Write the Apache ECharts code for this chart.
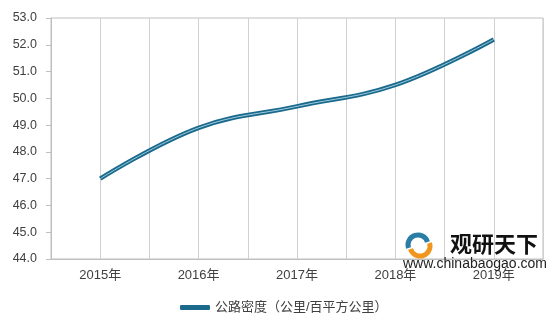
<!DOCTYPE html>
<html>
<head>
<meta charset="utf-8">
<script src="https://cdn.jsdelivr.net/npm/echarts@6/dist/echarts.min.js"></script>
<style>
    html, body { margin: 0; padding: 0; background: #fff; }
    #chart { width: 557px; height: 322px; }
</style>
</head>
<body>
<div id="chart"></div>
<script>
    // 数据
    var years = ['2015年', '2016年', '2017年', '2018年', '2019年'];
    var density = [47.0, 48.9, 49.7, 50.5, 52.2];
    var seriesName = '公路密度（公里/百平方公里）';
    // 半格竖线用的辅助类目
    var halfSlots = ['a', 'b', 'c', 'd', 'e', 'f', 'g', 'h', 'i', 'j'];

    var font = '"Liberation Sans", "Noto Sans CJK SC", sans-serif';
    var myChart = echarts.init(document.getElementById('chart'));
    var option = {
        animation: false,
        grid: { left: 51, right: 14, top: 18, bottom: 63, show: true, borderColor: '#bfbfbf', borderWidth: 1 },
        legend: {
            data: [seriesName],
            left: 175,
            top: 296,
            icon: 'roundRect',
            itemWidth: 30,
            itemHeight: 5,
            itemGap: 2,
            textStyle: { color: '#404040', fontSize: 13, fontFamily: font }
        },
        xAxis: [
            {
                type: 'category',
                data: years,
                boundaryGap: true,
                axisLine: { lineStyle: { color: '#bfbfbf' } },
                axisTick: { show: false },
                axisLabel: { color: '#404040', fontSize: 13, fontFamily: font, margin: 10 },
                splitLine: { show: false }
            },
            {
                type: 'category',
                data: halfSlots,
                position: 'bottom',
                boundaryGap: true,
                axisLine: { show: false },
                axisTick: { show: false },
                axisLabel: { show: false },
                splitLine: { show: true, lineStyle: { color: '#d0d0d0', width: 1 } }
            }
        ],
        yAxis: {
            type: 'value',
            min: 44,
            max: 53,
            interval: 1,
            axisLine: { show: true, lineStyle: { color: '#bfbfbf' } },
            axisTick: { show: true, length: 5, lineStyle: { color: '#bfbfbf' } },
            axisLabel: {
                color: '#404040', fontSize: 12.5, fontFamily: font, margin: 14,
                formatter: function (v) { return v.toFixed(1); }
            },
            splitLine: { show: false }
        },
        series: [
            {
                name: seriesName,
                type: 'line',
                data: density,
                smooth: 0.4,
                symbol: 'none',
                color: '#1b6a8c',
                lineStyle: { color: '#1b6a8c', width: 4.5 },
                z: 3
            },
            {
                name: 'inner',
                type: 'line',
                data: density,
                smooth: 0.4,
                symbol: 'none',
                lineStyle: { color: '#9ccbe0', width: 1 },
                z: 4
            }
        ],
        graphic: [
            // 水印
            { type: 'arc', shape: { cx: 418, cy: 245, r: 10, startAngle: Math.PI * 0.9, endAngle: Math.PI * 1.9 }, style: { stroke: '#2a7ea6', lineWidth: 5, fill: null }, z: 10 },
            { type: 'arc', shape: { cx: 420, cy: 246, r: 10, startAngle: -Math.PI * 0.1, endAngle: Math.PI * 0.9 }, style: { stroke: '#f0961e', lineWidth: 5, fill: null }, z: 10 },
            { type: 'text', left: 450, top: 233, style: { text: '观研天下', fill: '#111', font: 'bold 22px "Noto Sans CJK SC"' }, z: 10 },
            { type: 'text', left: 403, top: 257, style: { text: 'www.chinabaogao.com', fill: '#222', font: '14px "Liberation Sans"' }, z: 10 }
        ]
    };
    myChart.setOption(option);
</script>
</body>
</html>
